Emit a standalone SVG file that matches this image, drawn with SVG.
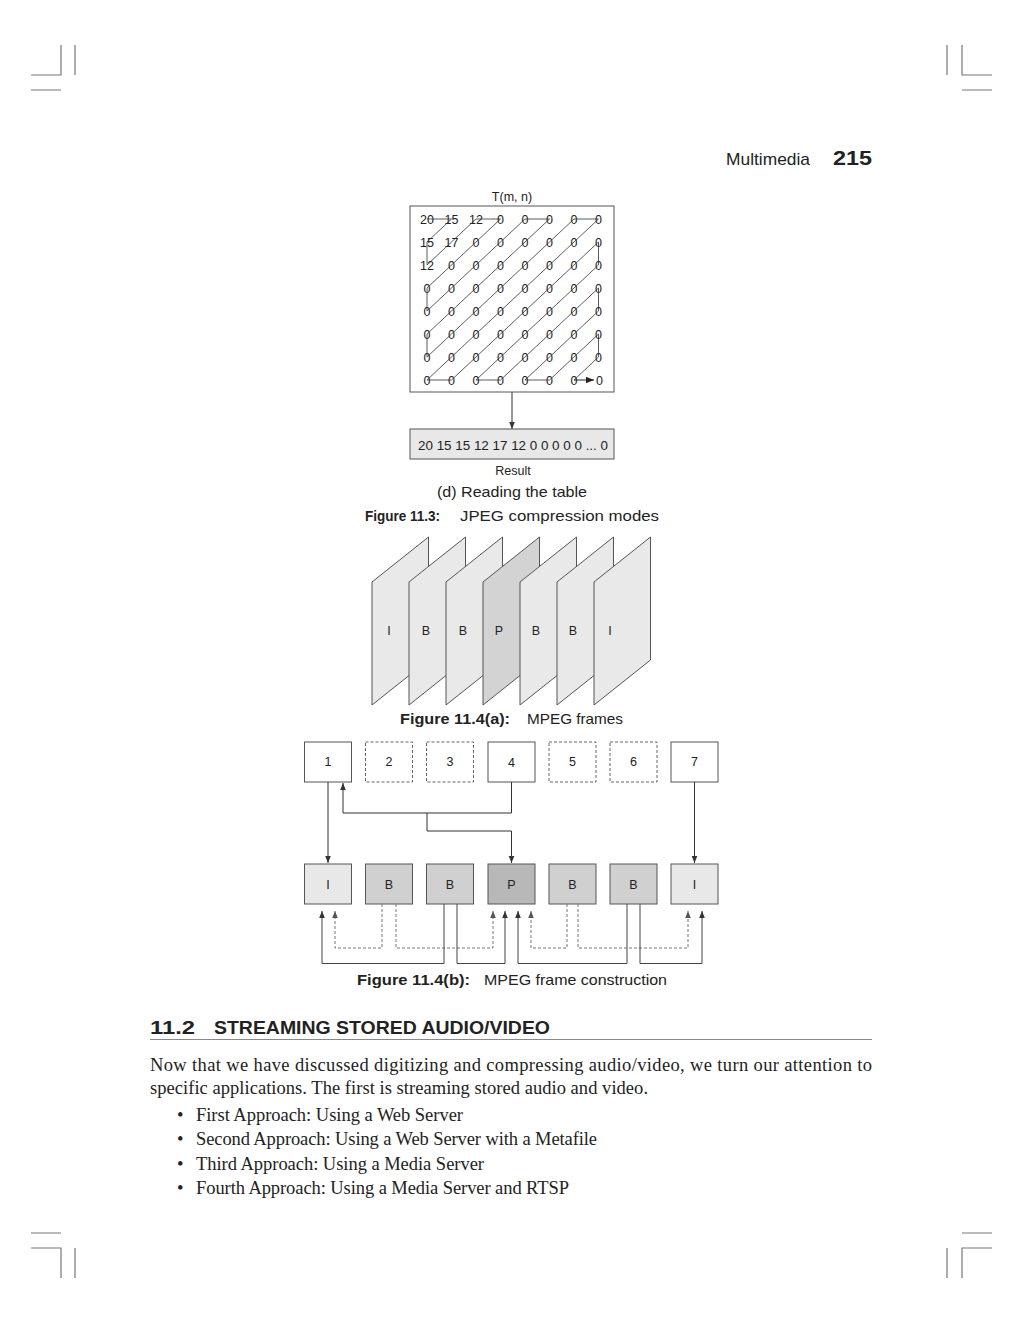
<svg xmlns="http://www.w3.org/2000/svg" width="1023" height="1324" viewBox="0 0 1023 1324">
<defs>
<marker id="ah" viewBox="0 0 10 10" refX="10" refY="5" markerWidth="7" markerHeight="7" orient="auto" markerUnits="userSpaceOnUse">
<path d="M0,1 L10,5 L0,9 z" fill="#333"/>
</marker>
<marker id="ahg" viewBox="0 0 10 10" refX="10" refY="5" markerWidth="7" markerHeight="7" orient="auto" markerUnits="userSpaceOnUse">
<path d="M0,1 L10,5 L0,9 z" fill="#555"/>
</marker>
<marker id="ahs" viewBox="0 0 10 10" refX="10" refY="5" markerWidth="8" markerHeight="8" orient="auto" markerUnits="userSpaceOnUse">
<path d="M0,1 L10,5 L0,9 z" fill="#222"/>
</marker>
</defs>
<style>
.crop{stroke:#777;stroke-width:1.2;fill:none}
.sans{font-family:"Liberation Sans",Arial,sans-serif;fill:#222}
.serif{font-family:"Liberation Serif","Times New Roman",serif;fill:#222;font-size:18.5px}
.cell{font-family:"Liberation Sans",Arial,sans-serif;font-size:12.5px;fill:#222;text-anchor:middle}
.lbl{font-family:"Liberation Sans",Arial,sans-serif;font-size:12.5px;fill:#222;text-anchor:middle}
.frame{stroke:#555;stroke-width:1;fill:#e9e9e9}
.box{stroke:#555;stroke-width:1;fill:#fff}
.dbox{stroke:#666;stroke-width:1;fill:#fff;stroke-dasharray:3,2}
.conn{stroke:#333;stroke-width:1;fill:none}
.gconn{stroke:#444;stroke-width:1;fill:none}
.dconn{stroke:#777;stroke-width:1;fill:none;stroke-dasharray:3,2}
.figb{font-family:"Liberation Sans",Arial,sans-serif;font-weight:bold;font-size:14.5px;fill:#222}
.figt{font-family:"Liberation Sans",Arial,sans-serif;font-size:14.5px;fill:#222}
</style>

<!-- crop marks -->
<g id="cropmarks">
<path class="crop" d="M61,45 V75 H31 M75,45 V75 M31,90 H61"/>
<path class="crop" d="M947,45 V75 M962,45 V75 H992 M962,90 H992"/>
<path class="crop" d="M31,1233 H61 M31,1248 H61 V1278 M75,1248 V1278"/>
<path class="crop" d="M992,1233 H962 M992,1248 H962 V1278 M947,1248 V1278"/>
</g>

<!-- header -->
<text class="sans" x="726" y="165" font-size="17" textLength="84" lengthAdjust="spacingAndGlyphs">Multimedia</text>
<text class="sans" x="833" y="165" font-size="21" font-weight="bold" textLength="39" lengthAdjust="spacingAndGlyphs">215</text>

<!-- Figure 11.3 (d) -->
<g id="table">
<text class="sans" x="512" y="201" font-size="12.5" text-anchor="middle">T(m, n)</text>
<rect x="410" y="206" width="204" height="186" fill="#fff" stroke="#555" stroke-width="1"/>
<g>
<text class="cell" x="427" y="223.5">20</text><text class="cell" x="451.5" y="223.5">15</text><text class="cell" x="476" y="223.5">12</text><text class="cell" x="500.5" y="223.5">0</text><text class="cell" x="525" y="223.5">0</text><text class="cell" x="549.5" y="223.5">0</text><text class="cell" x="574" y="223.5">0</text><text class="cell" x="598.5" y="223.5">0</text>
<text class="cell" x="427" y="246.5">15</text><text class="cell" x="451.5" y="246.5">17</text><text class="cell" x="476" y="246.5">0</text><text class="cell" x="500.5" y="246.5">0</text><text class="cell" x="525" y="246.5">0</text><text class="cell" x="549.5" y="246.5">0</text><text class="cell" x="574" y="246.5">0</text><text class="cell" x="598.5" y="246.5">0</text>
<text class="cell" x="427" y="269.5">12</text><text class="cell" x="451.5" y="269.5">0</text><text class="cell" x="476" y="269.5">0</text><text class="cell" x="500.5" y="269.5">0</text><text class="cell" x="525" y="269.5">0</text><text class="cell" x="549.5" y="269.5">0</text><text class="cell" x="574" y="269.5">0</text><text class="cell" x="598.5" y="269.5">0</text>
<text class="cell" x="427" y="292.5">0</text><text class="cell" x="451.5" y="292.5">0</text><text class="cell" x="476" y="292.5">0</text><text class="cell" x="500.5" y="292.5">0</text><text class="cell" x="525" y="292.5">0</text><text class="cell" x="549.5" y="292.5">0</text><text class="cell" x="574" y="292.5">0</text><text class="cell" x="598.5" y="292.5">0</text>
<text class="cell" x="427" y="315.5">0</text><text class="cell" x="451.5" y="315.5">0</text><text class="cell" x="476" y="315.5">0</text><text class="cell" x="500.5" y="315.5">0</text><text class="cell" x="525" y="315.5">0</text><text class="cell" x="549.5" y="315.5">0</text><text class="cell" x="574" y="315.5">0</text><text class="cell" x="598.5" y="315.5">0</text>
<text class="cell" x="427" y="338.5">0</text><text class="cell" x="451.5" y="338.5">0</text><text class="cell" x="476" y="338.5">0</text><text class="cell" x="500.5" y="338.5">0</text><text class="cell" x="525" y="338.5">0</text><text class="cell" x="549.5" y="338.5">0</text><text class="cell" x="574" y="338.5">0</text><text class="cell" x="598.5" y="338.5">0</text>
<text class="cell" x="427" y="361.5">0</text><text class="cell" x="451.5" y="361.5">0</text><text class="cell" x="476" y="361.5">0</text><text class="cell" x="500.5" y="361.5">0</text><text class="cell" x="525" y="361.5">0</text><text class="cell" x="549.5" y="361.5">0</text><text class="cell" x="574" y="361.5">0</text><text class="cell" x="598.5" y="361.5">0</text>
<text class="cell" x="427" y="384.5">0</text><text class="cell" x="451.5" y="384.5">0</text><text class="cell" x="476" y="384.5">0</text><text class="cell" x="500.5" y="384.5">0</text><text class="cell" x="525" y="384.5">0</text><text class="cell" x="549.5" y="384.5">0</text><text class="cell" x="574" y="384.5">0</text><text class="cell" x="599.5" y="384.5">0</text>
</g>
<polyline fill="none" stroke="#333" stroke-width="0.8" points="427,219 451.5,219 427,242 427,265 476,219 500.5,219 427,288 427,311 525,219 549.5,219 427,334 427,357 574,219 598.5,219 427,380 451.5,380 598.5,242 598.5,265 476,380 500.5,380 598.5,288 598.5,311 525,380 549.5,380 598.5,334 598.5,357 574,380"/>
<line x1="574" y1="380" x2="594" y2="380" stroke="#222" stroke-width="1" marker-end="url(#ahs)"/>
</g>

<g id="connectors-table">
<line class="conn" x1="512" y1="392" x2="512" y2="429" marker-end="url(#ah)"/>
</g>

<g id="result">
<rect x="410" y="429" width="204" height="30" fill="#e8e8e8" stroke="#555" stroke-width="1"/>
<text class="sans" x="513" y="450" font-size="13" text-anchor="middle" textLength="190" lengthAdjust="spacingAndGlyphs">20 15 15 12 17 12 0 0 0 0 0 ... 0</text>
<text class="sans" x="513" y="474.5" font-size="12.5" text-anchor="middle">Result</text>
</g>
<text class="sans" x="512" y="497" font-size="14.5" text-anchor="middle" textLength="150" lengthAdjust="spacingAndGlyphs">(d) Reading the table</text>
<text class="figb" x="365" y="521" textLength="75" lengthAdjust="spacingAndGlyphs">Figure 11.3:</text>
<text class="figt" x="460" y="521" textLength="199" lengthAdjust="spacingAndGlyphs">JPEG compression modes</text>

<!-- Figure 11.4(a) -->
<g id="mpeg-frames">
<g id="f1"><polygon class="frame" points="372,582 428.5,537 428.5,660 372,705"/><text class="lbl" x="389" y="635">I</text></g>
<g id="f2"><polygon class="frame" points="409,582 465.5,537 465.5,660 409,705"/><text class="lbl" x="426" y="635">B</text></g>
<g id="f3"><polygon class="frame" points="446,582 502.5,537 502.5,660 446,705"/><text class="lbl" x="463" y="635">B</text></g>
<g id="f4"><polygon class="frame" style="fill:#d3d3d3" points="483,582 539.5,537 539.5,660 483,705"/><text class="lbl" x="499" y="635">P</text></g>
<g id="f5"><polygon class="frame" points="520,582 576.5,537 576.5,660 520,705"/><text class="lbl" x="536" y="635">B</text></g>
<g id="f6"><polygon class="frame" points="557,582 613.5,537 613.5,660 557,705"/><text class="lbl" x="573" y="635">B</text></g>
<g id="f7"><polygon class="frame" points="594,582 650.5,537 650.5,660 594,705"/><text class="lbl" x="610" y="635">I</text></g>
</g>
<text class="figb" x="400" y="724" textLength="110" lengthAdjust="spacingAndGlyphs">Figure 11.4(a):</text>
<text class="figt" x="527" y="724" textLength="96" lengthAdjust="spacingAndGlyphs">MPEG frames</text>

<!-- Figure 11.4(b) -->
<g id="top-boxes">
<g id="t1"><rect class="box" x="304.5" y="742" width="47" height="40"/><text class="lbl" x="328" y="766">1</text></g>
<g id="t2"><rect class="dbox" x="365.5" y="742" width="47" height="40"/><text class="lbl" x="389" y="766">2</text></g>
<g id="t3"><rect class="dbox" x="426.5" y="742" width="47" height="40"/><text class="lbl" x="450" y="766">3</text></g>
<g id="t4"><rect class="box" x="488" y="742" width="47" height="40"/><text class="lbl" x="511.5" y="767">4</text></g>
<g id="t5"><rect class="dbox" x="549" y="742" width="47" height="40"/><text class="lbl" x="572.5" y="766">5</text></g>
<g id="t6"><rect class="dbox" x="610" y="742" width="47" height="40"/><text class="lbl" x="633.5" y="766">6</text></g>
<g id="t7"><rect class="box" x="671" y="742" width="47" height="40"/><text class="lbl" x="694.5" y="766">7</text></g>
</g>
<g id="bottom-boxes">
<g id="b1"><rect class="box" style="fill:#e8e8e8" x="304.5" y="864" width="47" height="40"/><text class="lbl" x="328" y="888.5">I</text></g>
<g id="b2"><rect class="box" style="fill:#d0d0d0" x="365.5" y="864" width="47" height="40"/><text class="lbl" x="389" y="888.5">B</text></g>
<g id="b3"><rect class="box" style="fill:#d0d0d0" x="426.5" y="864" width="47" height="40"/><text class="lbl" x="450" y="888.5">B</text></g>
<g id="b4"><rect class="box" style="fill:#b8b8b8" x="488" y="864" width="47" height="40"/><text class="lbl" x="511.5" y="888.5">P</text></g>
<g id="b5"><rect class="box" style="fill:#d0d0d0" x="549" y="864" width="47" height="40"/><text class="lbl" x="572.5" y="888.5">B</text></g>
<g id="b6"><rect class="box" style="fill:#d0d0d0" x="610" y="864" width="47" height="40"/><text class="lbl" x="633.5" y="888.5">B</text></g>
<g id="b7"><rect class="box" style="fill:#e8e8e8" x="671" y="864" width="47" height="40"/><text class="lbl" x="694.5" y="888.5">I</text></g>
</g>
<g id="connectors">
<line class="conn" x1="328" y1="782" x2="328" y2="863" marker-end="url(#ah)"/>
<polyline class="conn" points="511.5,782 511.5,813 343,813 343,783" marker-end="url(#ah)"/>
<polyline class="conn" points="427,813 427,831 511.5,831 511.5,863" marker-end="url(#ah)"/>
<line class="conn" x1="694.5" y1="782" x2="694.5" y2="863" marker-end="url(#ah)"/>
<polyline class="dconn" points="382,904 382,948 335,948 335,911" marker-end="url(#ahg)"/>
<polyline class="dconn" points="396,904 396,948 493,948 493,911" marker-end="url(#ahg)"/>
<polyline class="gconn" points="444,904 444,963.5 322,963.5 322,911" marker-end="url(#ah)"/>
<polyline class="gconn" points="457,904 457,963.5 505,963.5 505,911" marker-end="url(#ah)"/>
<polyline class="dconn" points="567,904 567,948 531,948 531,911" marker-end="url(#ahg)"/>
<polyline class="dconn" points="578,904 578,948 688,948 688,911" marker-end="url(#ahg)"/>
<polyline class="gconn" points="627,904 627,963.5 518,963.5 518,911" marker-end="url(#ah)"/>
<polyline class="gconn" points="640,904 640,963.5 702,963.5 702,911" marker-end="url(#ah)"/>
</g>
<text class="figb" x="357" y="985" textLength="113" lengthAdjust="spacingAndGlyphs">Figure 11.4(b):</text>
<text class="figt" x="484" y="985" textLength="183" lengthAdjust="spacingAndGlyphs">MPEG frame construction</text>

<!-- Section -->
<text class="sans" x="150" y="1034" font-size="18" font-weight="bold" textLength="45" lengthAdjust="spacingAndGlyphs">11.2</text>
<text class="sans" x="214" y="1034" font-size="18" font-weight="bold" textLength="336" lengthAdjust="spacingAndGlyphs">STREAMING STORED AUDIO/VIDEO</text>
<line x1="150" y1="1039.5" x2="872" y2="1039.5" stroke="#888" stroke-width="1"/>
<text class="serif" x="150" y="1071" textLength="722" lengthAdjust="spacing">Now that we have discussed digitizing and compressing audio/video, we turn our attention to</text>
<text class="serif" x="150" y="1094" textLength="498" lengthAdjust="spacing">specific applications. The first is streaming stored audio and video.</text>
<g class="serif">
<text x="177" y="1121">•</text><text x="196" y="1121" textLength="267" lengthAdjust="spacing">First Approach: Using a Web Server</text>
<text x="177" y="1145">•</text><text x="196" y="1145" textLength="401" lengthAdjust="spacing">Second Approach: Using a Web Server with a Metafile</text>
<text x="177" y="1170">•</text><text x="196" y="1170" textLength="288" lengthAdjust="spacing">Third Approach: Using a Media Server</text>
<text x="177" y="1194">•</text><text x="196" y="1194" textLength="373" lengthAdjust="spacing">Fourth Approach: Using a Media Server and RTSP</text>
</g>
</svg>
